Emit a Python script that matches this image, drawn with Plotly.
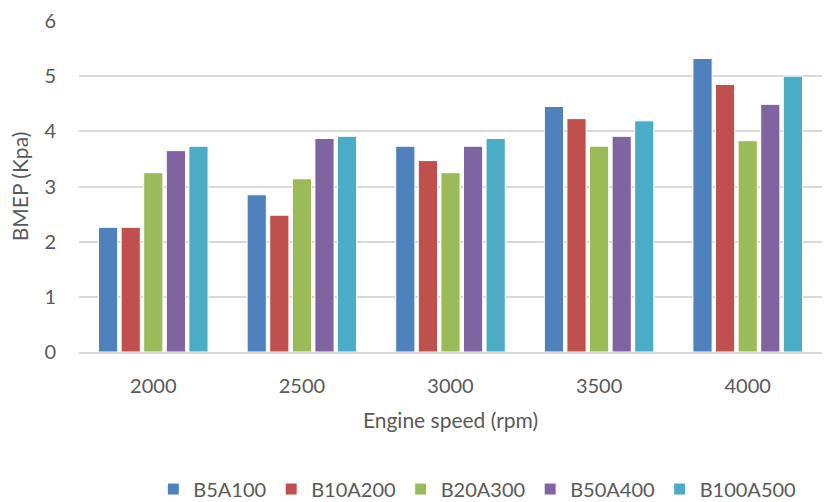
import plotly.graph_objects as go

speeds = ["2000", "2500", "3000", "3500", "4000"]
series_names = ["B5A100", "B10A200", "B20A300", "B50A400", "B100A500"]
b5a100 = [2.26, 2.85, 3.73, 4.45, 5.32]
b10a200 = [2.26, 2.48, 3.47, 4.23, 4.85]
b20a300 = [3.25, 3.14, 3.25, 3.73, 3.83]
b50a400 = [3.65, 3.87, 3.73, 3.91, 4.49]
b100a500 = [3.73, 3.91, 3.87, 4.19, 5.00]
y_ticks = [0, 1, 2, 3, 4, 5, 6]

colors = ["#4F81BD", "#C0504D", "#9BBB59", "#8064A2", "#4BACC6"]
values = [b5a100, b10a200, b20a300, b50a400, b100a500]

text_color = "#595959"
font_family = "Lato, 'Open Sans', sans-serif"

fig = go.Figure()
for name, vals, col in zip(series_names, values, colors):
    fig.add_trace(go.Bar(
        x=speeds, y=vals, name=name,
        marker=dict(color=col, line=dict(color="white", width=1)),
    ))

fig.update_layout(
    width=826, height=502,
    margin=dict(l=79, r=4, t=21, b=150, autoexpand=False),
    paper_bgcolor="white", plot_bgcolor="white",
    barmode="group", bargap=0.24, bargroupgap=0.15,
    font=dict(family=font_family, size=20, color=text_color),
    legend=dict(
        orientation="h", x=0.1, xanchor="left", y=-0.414, yanchor="middle",
        font=dict(size=20, color=text_color), itemwidth=30,
        traceorder="normal",
    ),
    showlegend=True,
)
fig.update_xaxes(
    showgrid=False, showline=True, linecolor="#D9D9D9", linewidth=1.5,
    ticks="", ticklabelstandoff=15, tickfont=dict(size=20),
    title=dict(text="Engine speed (rpm)", font=dict(size=21, color=text_color), standoff=18),
)
fig.update_yaxes(
    range=[0, 6], tickvals=y_ticks, showgrid=True, gridcolor="#D9D9D9", gridwidth=1.5,
    zeroline=False, showline=False, ticks="", ticklabelstandoff=22, tickfont=dict(size=20),
    title=dict(text="BMEP (Kpa)", font=dict(size=21, color=text_color), standoff=10),
)

fig.write_html("out.html")
